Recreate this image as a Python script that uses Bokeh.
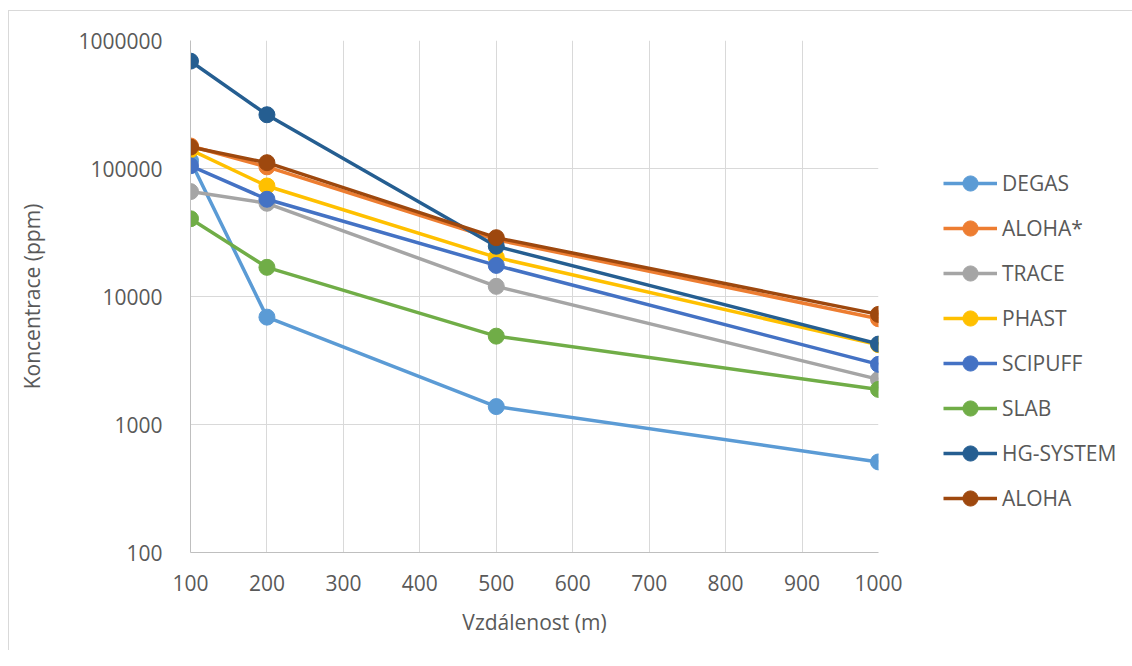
from bokeh.plotting import figure
from bokeh.models import FixedTicker, PrintfTickFormatter, Legend, LegendItem, Range1d
from bokeh.embed import file_html
from bokeh.resources import INLINE

distances = [100, 200, 500, 1000]
series_names = ["DEGAS", "ALOHA*", "TRACE", "PHAST", "SCIPUFF", "SLAB", "HG-SYSTEM", "ALOHA"]
degas = [115000, 6900, 1380, 510]
aloha_star = [150000, 103000, 27800, 6700]
trace = [66000, 53500, 12000, 2250]
phast = [140000, 73000, 20200, 4200]
scipuff = [105000, 57500, 17500, 2950]
slab = [40500, 16900, 4900, 1880]
hg_system = [690000, 263000, 24700, 4250]
aloha = [147000, 111000, 28800, 7250]
series_values = [degas, aloha_star, trace, phast, scipuff, slab, hg_system, aloha]
colors = ["#5B9BD5", "#ED7D31", "#A5A5A5", "#FFC000", "#4472C4", "#70AD47", "#255E91", "#9E480E"]
x_ticks = [100, 200, 300, 400, 500, 600, 700, 800, 900, 1000]
y_ticks = [100, 1000, 10000, 100000, 1000000]

FONT = "Open Sans"
TXT = "#595959"

p = figure(frame_width=688, frame_height=512, y_axis_type="log",
           x_range=Range1d(100, 1000), y_range=Range1d(100, 1000000),
           output_backend="svg", toolbar_location=None,
           min_border_left=181, min_border_right=0, min_border_top=29, min_border_bottom=98)
p.styles = {"margin-left": "8px", "margin-top": "10px",
            "border-left": "1px solid #D9D9D9", "border-top": "1px solid #D9D9D9"}
p.outline_line_color = None
p.background_fill_color = "white"
p.border_fill_color = "white"

p.xaxis.ticker = FixedTicker(ticks=x_ticks)
p.yaxis.ticker = FixedTicker(ticks=y_ticks)
p.yaxis.formatter = PrintfTickFormatter(format="%d")
p.xgrid.ticker = FixedTicker(ticks=x_ticks)
p.ygrid.ticker = FixedTicker(ticks=y_ticks)
p.grid.grid_line_color = "#D9D9D9"
p.grid.grid_line_width = 1

for ax in (p.xaxis, p.yaxis):
    ax.axis_line_color = "#BFBFBF"
    ax.major_tick_line_color = None
    ax.minor_tick_line_color = None
    ax.major_label_text_font = FONT
    ax.major_label_text_font_size = "21px"
    ax.major_label_text_color = TXT
    ax.axis_label_text_font = FONT
    ax.axis_label_text_font_size = "21px"
    ax.axis_label_text_color = TXT
    ax.axis_label_text_font_style = "normal"

p.xaxis.axis_label = "Vzdálenost (m)"
p.yaxis.axis_label = "Koncentrace (ppm)"
p.yaxis.major_label_standoff = 22
p.xaxis.major_label_standoff = 16
p.yaxis.axis_label_standoff = 29
p.xaxis.axis_label_standoff = 14

items = []
for name, vals, col in zip(series_names, series_values, colors):
    r1 = p.line(distances, vals, line_color=col, line_width=3.5)
    r2 = p.scatter(distances, vals, marker="circle", size=16, fill_color=col, line_color=col)
    items.append(LegendItem(label=name, renderers=[r1, r2]))

legend = Legend(items=items, location=(65, 35))
legend.label_text_font = FONT
legend.label_text_font_size = "21px"
legend.label_text_color = TXT
legend.glyph_width = 54
legend.glyph_height = 38
legend.label_height = 38
legend.label_standoff = 5
legend.spacing = 7
legend.padding = 0
legend.margin = 0
legend.border_line_color = None
legend.background_fill_alpha = 0
p.add_layout(legend, "right")

open("out.html", "w").write(file_html(p, INLINE))
